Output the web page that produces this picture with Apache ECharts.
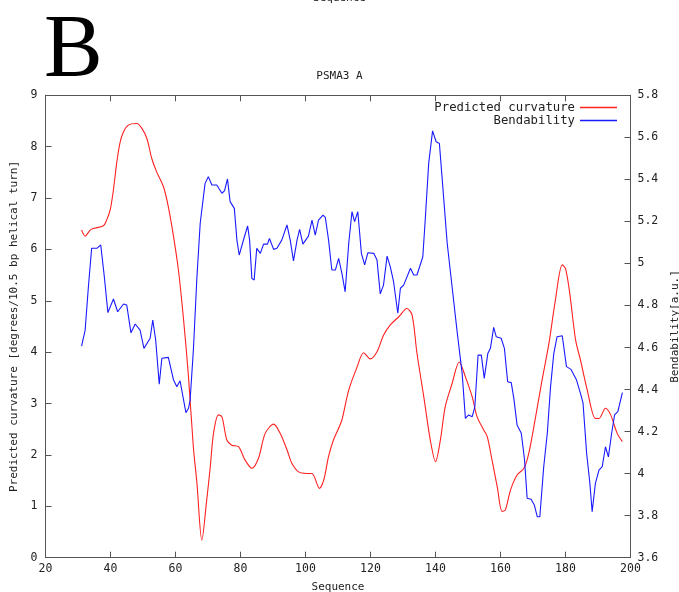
<!DOCTYPE html>
<html><head><meta charset="utf-8">
<script src="https://cdn.jsdelivr.net/npm/echarts@6/dist/echarts.min.js"></script>
<style>html,body{margin:0;padding:0;background:#fff}#c{width:679px;height:592px}</style>
</head><body><div id="c"></div>
<script>
const xTicks = [20, 40, 60, 80, 100, 120, 140, 160, 180, 200];
const curvaturePos = [31.1,32.2,34.0,37.8,38.8,39.9,40.9,41.9,42.9,44.0,45.5,48.1,49.6,51.2,52.7,54.2,56.3,57.8,59.4,60.9,62.4,64.0,65.5,66.6,68.1,69.6,70.7,71.7,73.2,74.3,75.8,77.3,79.4,81.4,83.5,85.5,87.6,90.2,92.2,94.3,95.8,97.9,100.4,102.0,104.3,105.6,107.1,108.6,110.2,111.2,113.3,115.8,117.9,119.9,122.0,124.0,126.1,128.7,131.2,132.8,134.3,136.4,138.4,140.0,141.5,143.0,145.1,147.3,149.2,151.3,152.8,154.8,155.9,157.4,159.0,160.5,161.5,163.1,165.1,167.2,168.7,170.8,172.8,174.9,176.9,179.0,180.0,181.3,183.1,184.6,186.7,189.2,190.3,192.3,193.9,195.9,197.5];
const curvatureVal = [6.38,6.26,6.39,6.46,6.57,6.77,7.16,7.68,8.07,8.29,8.42,8.45,8.36,8.16,7.77,7.51,7.22,6.83,6.25,5.60,4.69,3.52,2.15,1.45,0.34,1.12,1.77,2.42,2.78,2.74,2.29,2.19,2.16,1.90,1.74,1.93,2.42,2.60,2.42,2.10,1.84,1.67,1.64,1.64,1.35,1.51,1.97,2.29,2.52,2.68,3.26,3.70,3.99,3.87,4.01,4.33,4.53,4.69,4.85,4.72,3.98,3.13,2.29,1.87,2.29,2.94,3.39,3.81,3.52,3.13,2.74,2.49,2.36,1.90,1.38,0.90,0.93,1.32,1.61,1.74,2.03,2.74,3.46,4.17,5.02,5.70,5.63,5.15,4.24,3.85,3.26,2.71,2.71,2.91,2.78,2.42,2.26];
const bendPos = [31.1,32.2,33.2,34.2,35.8,37.0,38.1,39.2,40.9,42.2,44.0,45.0,46.3,47.6,49.1,50.3,52.2,53.0,53.9,55.0,55.8,57.8,59.4,60.4,61.4,63.2,64.0,64.5,65.5,66.6,67.6,69.1,70.1,71.2,72.7,74.3,75.1,76.0,76.8,78.1,78.9,79.6,80.2,81.2,82.2,82.8,83.5,84.2,85.0,86.1,87.1,88.3,88.9,90.2,91.2,92.7,94.3,95.3,96.3,97.4,98.2,99.2,100.9,102.0,103.0,104.0,105.4,106.1,107.1,108.1,109.2,110.2,111.2,112.2,113.3,114.3,115.1,116.1,117.2,118.2,119.2,121.0,122.0,123.0,124.0,125.1,126.1,127.1,128.4,129.2,130.2,132.3,133.3,134.3,136.1,136.9,137.9,139.1,140.2,141.2,142.0,143.6,145.1,146.6,148.2,149.2,150.2,151.3,152.1,153.1,154.1,155.0,156.1,156.9,157.9,158.7,160.2,161.2,162.2,163.3,164.1,165.1,166.4,167.4,168.2,169.4,170.4,171.3,172.1,173.3,174.4,175.4,176.4,177.4,179.0,180.3,181.7,183.4,184.6,185.4,186.5,187.5,188.2,189.2,190.3,191.3,192.3,193.2,194.2,195.1,196.1,197.5];
const bendVal = [4.607,4.683,4.889,5.072,5.072,5.088,4.937,4.766,4.831,4.770,4.807,4.802,4.670,4.712,4.683,4.596,4.644,4.731,4.636,4.426,4.549,4.553,4.445,4.413,4.442,4.290,4.311,4.350,4.588,4.937,5.191,5.381,5.413,5.373,5.373,5.334,5.346,5.402,5.294,5.262,5.111,5.040,5.032,5.127,5.178,5.111,4.929,4.921,5.072,5.048,5.092,5.092,5.119,5.067,5.072,5.111,5.183,5.111,5.012,5.111,5.162,5.092,5.130,5.206,5.135,5.206,5.230,5.219,5.111,4.969,4.969,5.024,4.953,4.865,5.096,5.246,5.199,5.246,5.048,4.993,5.051,5.048,5.016,4.855,4.897,5.035,4.984,4.913,4.763,4.882,4.897,4.977,4.945,4.945,5.032,5.222,5.476,5.631,5.579,5.571,5.413,5.096,4.889,4.683,4.477,4.263,4.279,4.271,4.318,4.564,4.564,4.453,4.572,4.596,4.696,4.651,4.644,4.596,4.437,4.433,4.358,4.231,4.192,4.065,3.883,3.878,3.851,3.795,3.795,4.033,4.192,4.413,4.572,4.651,4.656,4.509,4.496,4.445,4.382,4.335,4.097,3.954,3.819,3.954,4.017,4.033,4.128,4.080,4.192,4.279,4.295,4.385];

const zip = (a, b) => a.map((v, i) => [v, b[i]]);
const mono = 'DejaVu Sans Mono';
const axisCol = '#555';
const txtCol = '#222';
const chart = echarts.init(document.getElementById('c'), null, {renderer: 'canvas'});
chart.setOption({
  animation: false,
  backgroundColor: '#fff',
  title: {text: 'PSMA3 A', left: 'center', top: 66, textStyle: {fontFamily: mono, fontSize: 11, fontWeight: 'normal', color: txtCol}},
  graphic: [
    {type: 'text', left: 44, top: 8, style: {text: 'B', font: '88px "Liberation Serif"', fill: '#000'}},
    {type: 'text', left: 'center', top: -7, style: {text: 'Sequence', font: '11px "DejaVu Sans Mono"', fill: txtCol}}
  ],
  legend: [
    {data: ['Predicted curvature'], right: 57, top: 96.5, align: 'right', icon: 'rect', itemWidth: 37, itemHeight: 1.5, itemGap: 0, textStyle: {fontFamily: mono, fontSize: 12.3, color: txtCol}},
    {data: ['Bendability'], right: 57, top: 109.5, align: 'right', icon: 'rect', itemWidth: 37, itemHeight: 1.5, itemGap: 0, textStyle: {fontFamily: mono, fontSize: 12.3, color: txtCol}}
  ],
  grid: {left: 45.5, right: 48.5, top: 95.3, bottom: 34.3, containLabel: false, outerBoundsMode: 'none'},
  xAxis: [
    {type: 'value', min: 20, max: 200, interval: 20, position: 'bottom', name: 'Sequence', nameLocation: 'middle', nameGap: 24,
     nameTextStyle: {fontFamily: mono, fontSize: 11, color: txtCol},
     axisLine: {lineStyle: {color: axisCol}}, axisTick: {inside: true, length: 6, lineStyle: {color: axisCol}},
     axisLabel: {fontFamily: mono, fontSize: 11.5, color: txtCol, margin: 5.5}, splitLine: {show: false}},
    {type: 'value', min: 20, max: 200, interval: 20, position: 'top',
     axisLine: {lineStyle: {color: axisCol}}, axisTick: {inside: true, length: 6, lineStyle: {color: axisCol}},
     axisLabel: {show: false}, splitLine: {show: false}}
  ],
  yAxis: [
    {type: 'value', min: 0, max: 9, interval: 1, position: 'left', name: 'Predicted curvature [degrees/10.5 bp helical turn]', nameLocation: 'middle', nameGap: 22.5,
     nameTextStyle: {fontFamily: mono, fontSize: 11, color: txtCol},
     axisLine: {show: true, lineStyle: {color: axisCol}}, axisTick: {show: true, inside: true, length: 6, lineStyle: {color: axisCol}},
     axisLabel: {fontFamily: mono, fontSize: 11.5, color: txtCol, margin: 8}, splitLine: {show: false}},
    {type: 'value', min: 3.6, max: 5.8, interval: 0.2, position: 'right', name: 'Bendability[a.u.]', nameLocation: 'middle', nameGap: 32,
     nameTextStyle: {fontFamily: mono, fontSize: 11, color: txtCol},
     axisLine: {show: true, lineStyle: {color: axisCol}}, axisTick: {show: true, inside: true, length: 6, lineStyle: {color: axisCol}},
     axisLabel: {fontFamily: mono, fontSize: 11.5, color: txtCol, margin: 7, formatter: v => String(Math.round(v * 10) / 10)}, splitLine: {show: false}}
  ],
  series: [
    {name: 'Predicted curvature', type: 'line', xAxisIndex: 0, yAxisIndex: 0, data: zip(curvaturePos, curvatureVal), showSymbol: false, smooth: 0.3,
     lineStyle: {color: '#ff2020', width: 1.1}, itemStyle: {color: '#ff2020'}},
    {name: 'Bendability', type: 'line', xAxisIndex: 0, yAxisIndex: 1, data: zip(bendPos, bendVal), showSymbol: false,
     lineStyle: {color: '#1a1aff', width: 1.1}, itemStyle: {color: '#1a1aff'}}
  ]
});
</script></body></html>
